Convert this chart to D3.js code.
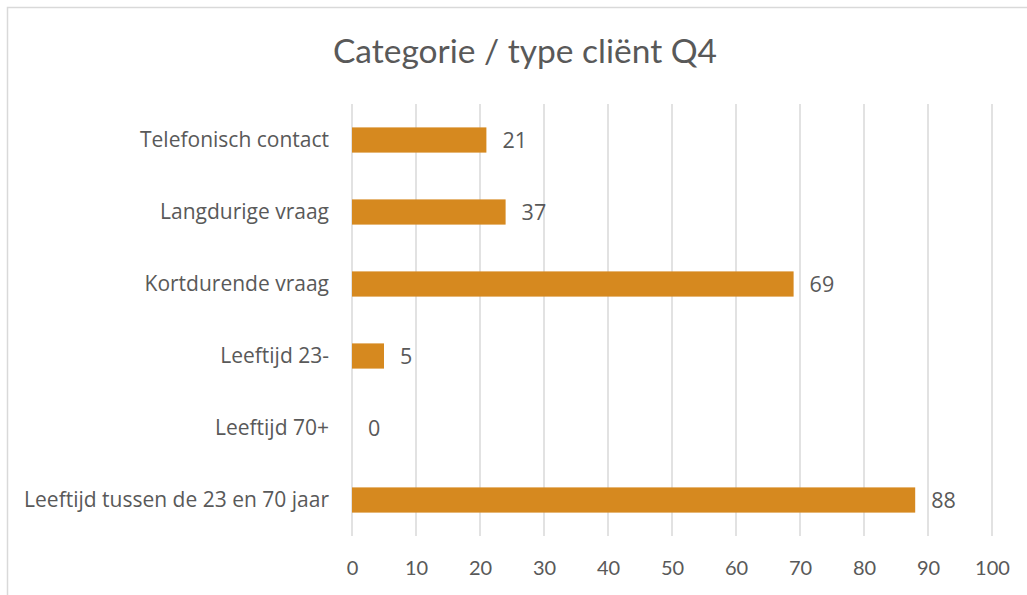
<!DOCTYPE html>
<html lang="nl">
<head>
<meta charset="UTF-8">
<title>Categorie / type cliënt Q4</title>
<script src="https://d3js.org/d3.v7.min.js" charset="utf-8"></script>
<style>
  body { margin: 0; background: #fff; }
  text { font-family: "Open Sans", sans-serif; fill: #595959; }
  .title, .tick-x text { font-family: Lato, sans-serif; }
  .grid line { stroke: #d9d9d9; stroke-width: 1.5px; }
</style>
</head>
<body>
<svg id="chart" width="1027" height="595"></svg>
<script>
  // categories top to bottom, bar lengths and the labels shown next to them
  var categories = ["Telefonisch contact", "Langdurige vraag", "Kortdurende vraag",
                    "Leeftijd 23-", "Leeftijd 70+", "Leeftijd tussen de 23 en 70 jaar"];
  var barValues = [21, 24, 69, 5, 0, 88];
  var valueLabels = ["21", "37", "69", "5", "0", "88"];
  var xTicks = [0, 10, 20, 30, 40, 50, 60, 70, 80, 90, 100];
  var title = "Categorie / type cliënt Q4";

  var svg = d3.select("#chart");
  var plotLeft = 352, plotRight = 992, plotTop = 104, plotBottom = 536;

  // chart frame
  svg.append("rect")
    .attr("x", 7.5).attr("y", 7.5)
    .attr("width", 1040).attr("height", 620)
    .style("fill", "none").style("stroke", "#d9d9d9").style("stroke-width", 1.5);

  svg.append("text")
    .attr("class", "title")
    .attr("x", 525).attr("y", 63)
    .attr("text-anchor", "middle")
    .style("font-size", "33.5px")
    .text(title);

  var x = d3.scaleLinear().domain([0, 100]).range([plotLeft, plotRight]);
  var y = d3.scaleBand().domain(categories).range([plotTop, plotBottom]).paddingInner(0.65).paddingOuter(0.325);

  // vertical gridlines
  svg.append("g").attr("class", "grid")
    .selectAll("line").data(xTicks).enter().append("line")
    .attr("x1", function(d) { return x(d); })
    .attr("x2", function(d) { return x(d); })
    .attr("y1", plotTop).attr("y2", plotBottom);

  var xAxis = d3.axisBottom(x).tickValues(xTicks).tickSize(0).tickPadding(0);
  var gx = svg.append("g").attr("class", "tick-x")
    .attr("transform", "translate(0," + (plotBottom + 39) + ")").call(xAxis);
  gx.select(".domain").remove();
  gx.selectAll("text").style("font-size", "20px").style("fill", "#595959").attr("dy", 0);

  var yAxis = d3.axisLeft(y).tickSize(0).tickPadding(23);
  var gy = svg.append("g").attr("transform", "translate(" + plotLeft + ",0)").call(yAxis);
  gy.select(".domain").remove();
  gy.selectAll("text").style("font-size", "21px").style("fill", "#595959");

  svg.selectAll(".bar").data(categories).enter().append("rect")
    .attr("class", "bar")
    .attr("x", x(0))
    .attr("y", function(d) { return y(d); })
    .attr("width", function(d, i) { return x(barValues[i]) - x(0); })
    .attr("height", y.bandwidth())
    .style("fill", "#d6891f");

  svg.selectAll(".lbl").data(categories).enter().append("text")
    .attr("class", "lbl")
    .attr("x", function(d, i) { return x(barValues[i]) + 16; })
    .attr("y", function(d) { return y(d) + y.bandwidth() / 2; })
    .attr("dy", "0.35em")
    .style("font-size", "21.5px")
    .text(function(d, i) { return valueLabels[i]; });
</script>
</body>
</html>
